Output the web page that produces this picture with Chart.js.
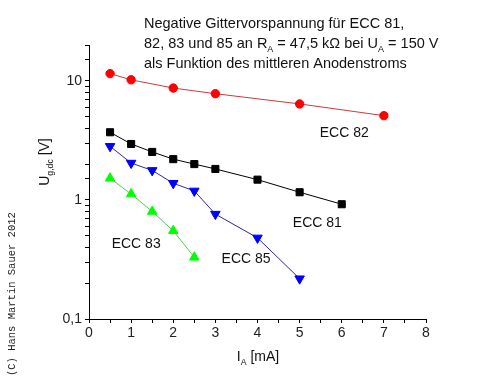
<!DOCTYPE html>
<html>
<head>
<meta charset="utf-8">
<script src="https://cdn.jsdelivr.net/npm/chart.js@4.4.0/dist/chart.umd.min.js"></script>
<style>
  html, body { margin: 0; padding: 0; background: #ffffff; }
  #wrap { width: 495px; height: 383px; }
</style>
</head>
<body>
<div id="wrap"><canvas id="chart" width="495" height="383"></canvas></div>
<script>
// Daten
var ecc82x = [0.5, 1, 2, 3, 5, 7];
var ecc82y = [11.5, 10.2, 8.7, 7.8, 6.4, 5.1];

var ecc81x = [0.5, 1, 1.5, 2, 2.5, 3, 4, 5, 6];
var ecc81y = [3.7, 2.95, 2.53, 2.2, 2.0, 1.82, 1.48, 1.16, 0.92];

var ecc85x = [0.5, 1, 1.5, 2, 2.5, 3, 4, 5];
var ecc85y = [2.82, 2.04, 1.77, 1.38, 1.19, 0.76, 0.48, 0.218];

var ecc83x = [0.5, 1, 1.5, 2, 2.5];
var ecc83y = [1.52, 1.12, 0.80, 0.55, 0.33];

var xTicks = [0, 1, 2, 3, 4, 5, 6, 7, 8];
var yTicks = [0.1, 1, 10];

// Beschriftungen der Kurven (Position in Datenkoordinaten)
var labelTexts = ['ECC 82', 'ECC 81', 'ECC 85', 'ECC 83'];
var labelX = [6.06, 5.42, 3.73, 1.12];
var labelY = [3.72, 0.652, 0.323, 0.434];

function punkte(xs, ys) {
    return xs.map(function (x, i) { return { x: x, y: ys[i] }; });
}

var FONT = '"Liberation Sans", Arial, sans-serif';

// Text mit Tiefstellung zeichnen: teile = [[text, tief?], ...]
function textMitIndex(ctx, teile, x, y, size, align) {
    var breite = 0;
    teile.forEach(function (t) {
        ctx.font = (t[1] ? size * 0.62 : size) + 'px ' + FONT;
        breite += ctx.measureText(t[0]).width;
    });
    var start = x;
    if (align === 'center') start = x - breite / 2;
    ctx.textAlign = 'left';
    ctx.textBaseline = 'alphabetic';
    teile.forEach(function (t) {
        ctx.font = (t[1] ? size * 0.62 : size) + 'px ' + FONT;
        ctx.fillText(t[0], start, y + (t[1] ? size * 0.3 : 0));
        start += ctx.measureText(t[0]).width;
    });
}

var beschriftung = {
    id: 'beschriftung',
    afterDraw: function (chart) {
        var ctx = chart.ctx;
        var sx = chart.scales.x, sy = chart.scales.y;
        ctx.save();
        ctx.fillStyle = '#111';

        // Titel
        textMitIndex(ctx, [['Negative Gittervorspannung für ECC 81,', false]], 144, 28, 14.5);
        textMitIndex(ctx, [['82, 83 und 85 an R', false], ['A', true], [' = 47,5 kΩ bei U', false], ['A', true], [' = 150 V', false]], 144, 48, 14.5);
        textMitIndex(ctx, [['als Funktion des mittleren Anodenstroms', false]], 144, 68, 14.5);

        // Kurvenbeschriftungen
        for (var i = 0; i < labelTexts.length; i++) {
            textMitIndex(ctx, [[labelTexts[i], false]], sx.getPixelForValue(labelX[i]), sy.getPixelForValue(labelY[i]) + 5, 14, 'center');
        }

        // Achsentitel
        textMitIndex(ctx, [['I', false], ['A', true], [' [mA]', false]], 258, 361, 14, 'center');
        ctx.save();
        ctx.translate(49, 162);
        ctx.rotate(-Math.PI / 2);
        textMitIndex(ctx, [['U', false], ['g,dc', true], [' [V]', false]], 0, 0, 14, 'center');
        ctx.restore();

        // Copyright
        ctx.save();
        ctx.translate(15, 376);
        ctx.rotate(-Math.PI / 2);
        ctx.font = '10.5px "Liberation Mono", "Courier New", monospace';
        ctx.textAlign = 'left';
        ctx.fillStyle = '#222';
        ctx.fillText('(C) Hans Martin Sauer 2012', 0, 0);
        ctx.restore();

        ctx.restore();
    }
};

var hintergrund = {
    id: 'hintergrund',
    beforeDraw: function (chart) {
        var ctx = chart.ctx;
        ctx.save();
        ctx.fillStyle = '#ffffff';
        ctx.fillRect(0, 0, chart.width, chart.height);
        ctx.restore();
    }
};

window.onload = function () {
    grafico();
}

function grafico() {
    var ctx = document.getElementById('chart').getContext('2d');
    new Chart(ctx, {
        type: 'line',
        data: {
            datasets: [
                {
                    label: 'ECC 82',
                    data: punkte(ecc82x, ecc82y),
                    borderColor: '#cc3a3a',
                    backgroundColor: '#ff0000',
                    pointBorderColor: '#ff0000',
                    pointStyle: 'circle',
                    pointRadius: 4.2,
                    borderWidth: 1
                },
                {
                    label: 'ECC 81',
                    data: punkte(ecc81x, ecc81y),
                    borderColor: '#000000',
                    backgroundColor: '#000000',
                    pointStyle: 'rect',
                    pointRadius: 5,
                    borderWidth: 1
                },
                {
                    label: 'ECC 85',
                    data: punkte(ecc85x, ecc85y),
                    borderColor: '#2a2aa8',
                    backgroundColor: '#0000ff',
                    pointBorderColor: '#0000ff',
                    pointStyle: 'triangle',
                    pointRotation: 180,
                    pointRadius: 5.5,
                    borderWidth: 1
                },
                {
                    label: 'ECC 83',
                    data: punkte(ecc83x, ecc83y),
                    borderColor: '#55cc55',
                    backgroundColor: '#00ff00',
                    pointBorderColor: '#00ff00',
                    pointStyle: 'triangle',
                    pointRadius: 5.5,
                    borderWidth: 1
                }
            ]
        },
        options: {
            responsive: false,
            animation: false,
            layout: { padding: { top: 45, right: 69, left: 0, bottom: 0 } },
            plugins: {
                legend: { display: false },
                tooltip: { enabled: false },
                title: { display: false }
            },
            scales: {
                x: {
                    type: 'linear',
                    min: 0,
                    max: 8,
                    afterFit: function (s) { s.height = 64; },
                    afterBuildTicks: function (s) {
                        var t = [];
                        for (var v = 0; v <= 8; v += 0.5) t.push({ value: v });
                        s.ticks = t;
                    },
                    ticks: {
                        autoSkip: false,
                        maxRotation: 0,
                        padding: 2,
                        color: '#222',
                        font: { family: FONT, size: 14 },
                        callback: function (v) { return xTicks.indexOf(v) >= 0 ? String(v) : ''; }
                    },
                    grid: { drawOnChartArea: false, tickLength: 4, tickColor: '#000', color: '#000' },
                    border: { color: '#000', width: 1 }
                },
                y: {
                    type: 'logarithmic',
                    min: 0.1,
                    max: 20,
                    afterFit: function (s) { s.width = 89; },
                    ticks: {
                        autoSkip: false,
                        padding: 3,
                        color: '#222',
                        font: { family: FONT, size: 14 },
                        callback: function (v) {
                            for (var i = 0; i < yTicks.length; i++) {
                                if (Math.abs(v - yTicks[i]) < 1e-9) return String(yTicks[i]).replace('.', ',');
                            }
                            return '';
                        }
                    },
                    grid: { drawOnChartArea: false, tickLength: 4, tickColor: '#000', color: '#000' },
                    border: { color: '#000', width: 1 }
                }
            }
        },
        plugins: [hintergrund, beschriftung]
    });
}
</script>
</body>
</html>
